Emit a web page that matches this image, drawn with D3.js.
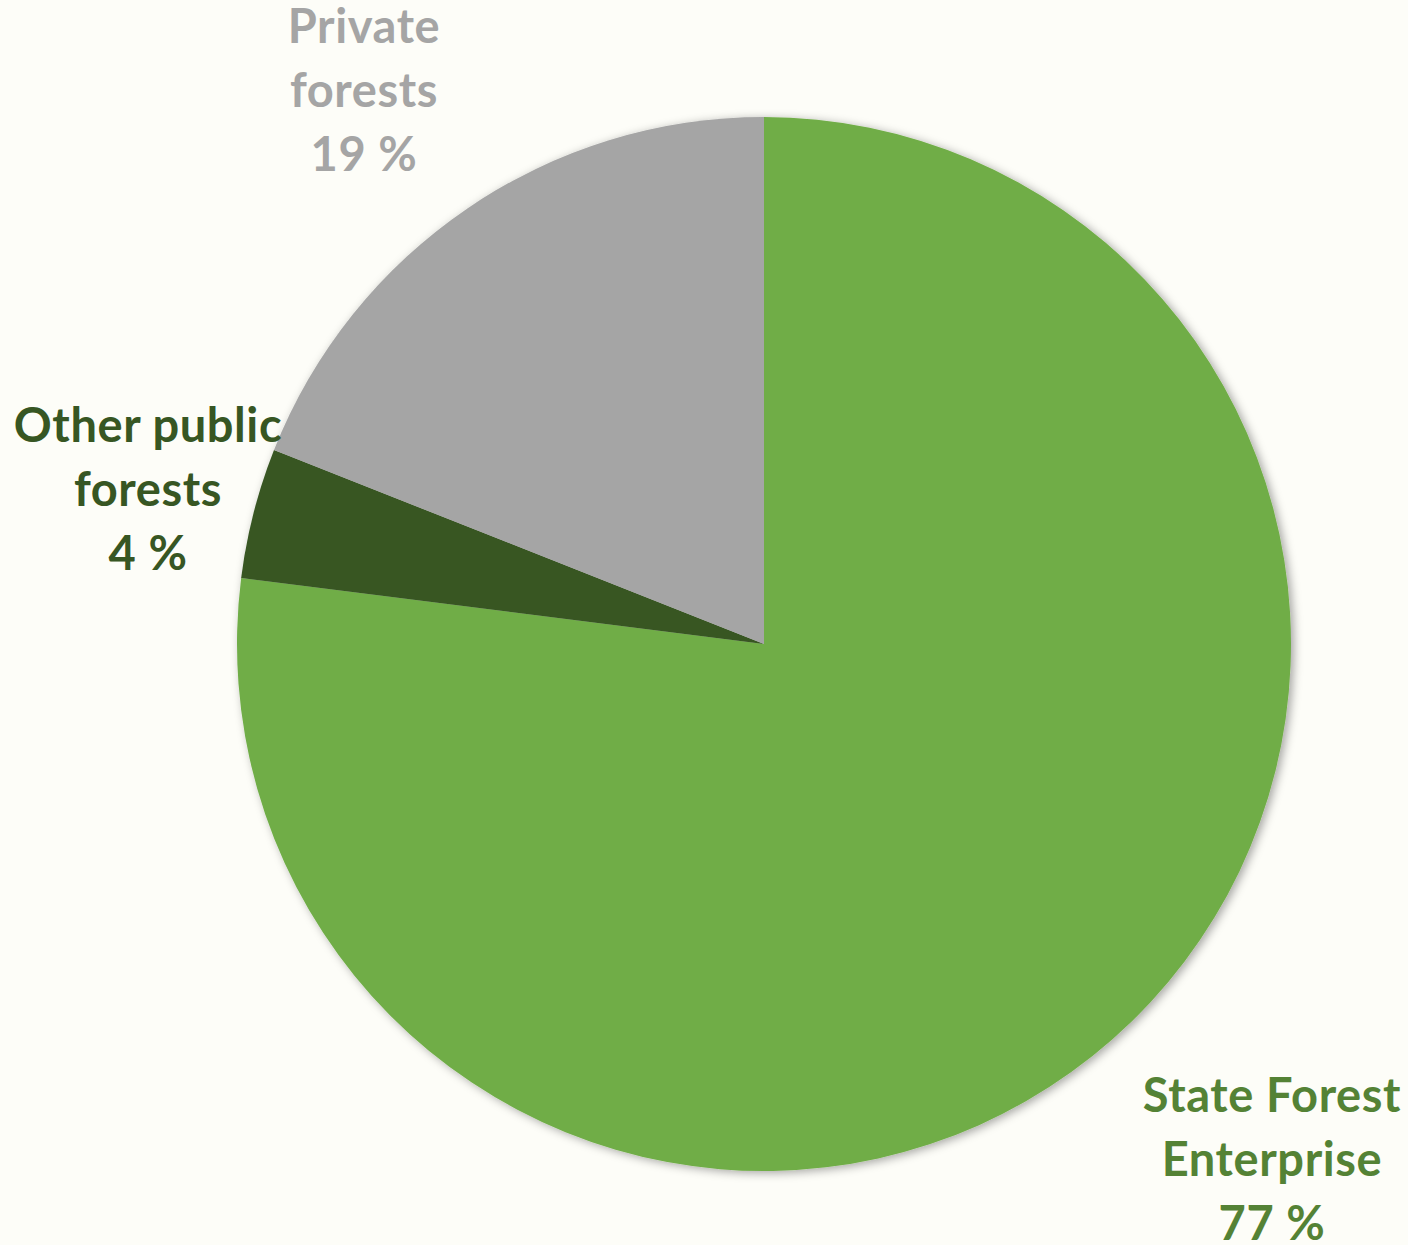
<!DOCTYPE html>
<html><head><meta charset="utf-8">
<script src="https://cdn.jsdelivr.net/npm/d3@7"></script>
<style>html,body{margin:0;padding:0;background:#FDFDF8;}svg{display:block;}</style>
</head><body>
<script>
const categories = ["State Forest Enterprise", "Other public forests", "Private forests"];
const values = [77, 4, 19];
const labelLines = [["State Forest","Enterprise","77 %"],["Other public","forests","4 %"],["Private","forests","19 %"]];
const colors = ["#70AD47", "#375623", "#A5A5A5"];
const labelColors = ["#548235", "#375623", "#A5A5A5"];

const W = 1408, H = 1245;
const cx = 764, cy = 644, R = 527;
const svg = d3.select("body").append("svg").attr("width", W).attr("height", H);
svg.append("rect").attr("width", W).attr("height", H).attr("fill", "#FDFDF8");
const defs = svg.append("defs");
const f = defs.append("filter").attr("id","sh").attr("x","-10%").attr("y","-10%").attr("width","120%").attr("height","120%");
f.append("feDropShadow").attr("dx",3).attr("dy",2).attr("stdDeviation",5).attr("flood-color","#000").attr("flood-opacity",0.35);

const pie = d3.pie().sort(null).value(d => d)(values);
const arc = d3.arc().innerRadius(0).outerRadius(R);
const g = svg.append("g").attr("transform", `translate(${cx},${cy})`);
g.append("g").attr("filter","url(#sh)").selectAll("path").data(pie).join("path")
  .attr("d", arc).attr("fill", (d,i) => colors[i]);

const labelPos = [[1272, 1112], [148, 442], [364, 43]];
const lineH = 64;
labelLines.forEach((lines, i) => {
  const t = svg.append("text").attr("text-anchor","middle")
    .attr("font-family","Lato, 'Open Sans', sans-serif").attr("font-weight","bold")
    .attr("font-size", 47).attr("letter-spacing", 0.6).attr("fill", labelColors[i]);
  lines.forEach((l, j) => {
    t.append("tspan").attr("x", labelPos[i][0]).attr("y", labelPos[i][1] + j*lineH).text(l);
  });
});
</script>
</body></html>
